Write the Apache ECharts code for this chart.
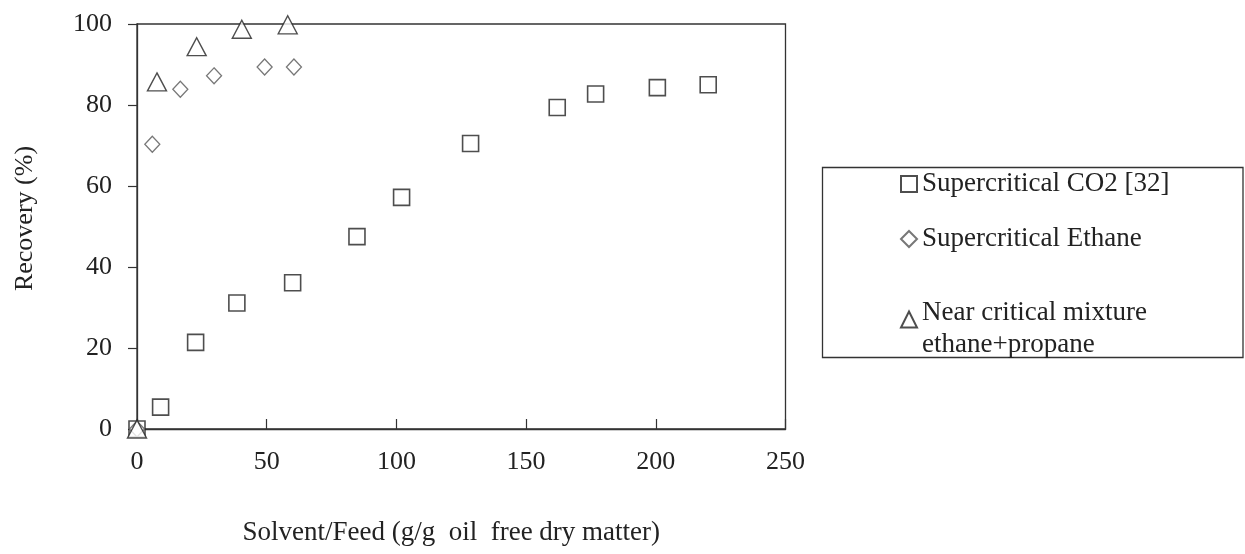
<!DOCTYPE html>
<html><head><meta charset="utf-8">
<script src="https://cdn.jsdelivr.net/npm/echarts@6/dist/echarts.min.js"></script>
<style>html,body{margin:0;padding:0;background:#fff}#c{width:1245px;height:554px}</style>
</head><body><div id="c"></div>
<script>
var co2X = [0, 9.1, 22.6, 38.5, 60.0, 84.8, 102.0, 128.6, 162.0, 176.8, 200.6, 220.2];
var co2Y = [0, 5.4, 21.4, 31.1, 36.1, 47.5, 57.2, 70.5, 79.4, 82.7, 84.3, 85.0];
var ethX = [0, 5.9, 16.7, 29.7, 49.2, 60.5];
var ethY = [0, 70.3, 83.9, 87.2, 89.4, 89.4];
var mixX = [0, 7.7, 23.0, 40.4, 58.1];
var mixY = [0, 85.7, 94.4, 98.7, 99.8];
var seriesNames = ['Supercritical CO2 [32]', 'Supercritical Ethane', 'Near critical mixture\nethane+propane'];
var xTicks = [0, 50, 100, 150, 200, 250];
var yTicks = [0, 20, 40, 60, 80, 100];

function pairs(xs, ys){ return xs.map(function(x,i){return [x, ys[i]];}); }
var font = 'Liberation Serif, Times New Roman, serif';
var chart = echarts.init(document.getElementById('c'), null, {renderer:'canvas'});
chart.setOption({
  animation:false,
  backgroundColor:'#fff',
  grid:{left:137, top:24, right:459.5, bottom:125, show:true, borderColor:'#333', borderWidth:1.3, backgroundColor:'transparent'},
  xAxis:{type:'value', min:xTicks[0], max:xTicks[xTicks.length-1], interval:50,
    name:'Solvent/Feed (g/g  oil  free dry matter)', nameLocation:'middle', nameGap:90,
    nameTextStyle:{fontFamily:font, fontSize:27, color:'#222', padding:[0,20,0,0]},
    axisLine:{show:true, onZero:false, lineStyle:{color:'#333', width:1.3}},
    axisTick:{show:true, inside:true, length:10, lineStyle:{color:'#333', width:1.2}},
    axisLabel:{fontFamily:font, fontSize:26, color:'#222', margin:20},
    splitLine:{show:false}},
  yAxis:{type:'value', min:yTicks[0], max:yTicks[yTicks.length-1], interval:20,
    name:'Recovery (%)', nameLocation:'middle', nameGap:99, nameRotate:90,
    nameTextStyle:{fontFamily:font, fontSize:26, color:'#222', padding:[0,0,0,16]},
    axisLine:{show:true, onZero:false, lineStyle:{color:'#333', width:1.3}},
    axisTick:{show:true, inside:false, length:9, lineStyle:{color:'#333', width:1.2}},
    axisLabel:{fontFamily:font, fontSize:26, color:'#222', margin:25},
    splitLine:{show:false}},
  legend:{orient:'vertical', left:900, top:168, padding:0, itemGap:23, itemWidth:16, itemHeight:16,
    textStyle:{fontFamily:font, fontSize:27, color:'#222', lineHeight:32,
      rich:{gap:{fontSize:10, lineHeight:19}}},
    formatter:function(name){ return name === seriesNames[2] ? '{gap| }\n' + name : name; },
    data:seriesNames},
  graphic:[{type:'rect', shape:{x:822.5, y:167.5, width:420.5, height:190}, style:{fill:'none', stroke:'#333', lineWidth:1.3}, z:-1}],
  series:[
    {name:seriesNames[0], type:'scatter', symbol:'rect', symbolSize:16, data:pairs(co2X, co2Y),
      itemStyle:{color:'#fff', borderColor:'#222', borderWidth:1.6}},
    {name:seriesNames[1], type:'scatter', symbol:'diamond', symbolSize:[15,16], data:pairs(ethX, ethY),
      itemStyle:{color:'#fff', borderColor:'#555', borderWidth:1.3}},
    {name:seriesNames[2], type:'scatter', symbol:'triangle', symbolSize:[19,18], data:pairs(mixX, mixY),
      itemStyle:{color:'#fff', borderColor:'#222', borderWidth:1.4}}
  ]
});
</script></body></html>
